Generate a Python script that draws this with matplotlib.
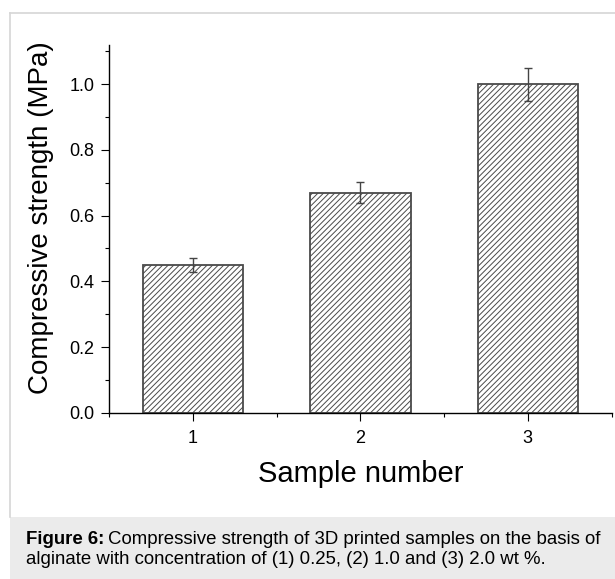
import matplotlib
matplotlib.use("Agg")
import matplotlib.pyplot as plt
from matplotlib.patches import Rectangle
from matplotlib.lines import Line2D
from matplotlib.ticker import MultipleLocator, FormatStrFormatter

plt.rcParams["font.family"] = ["Liberation Sans", "DejaVu Sans"]
plt.rcParams["hatch.linewidth"] = 0.7
plt.rcParams["hatch.color"] = "#3a3a3a"

# Compressive strength per sample
samples = [1, 2, 3]
strength = [0.45, 0.67, 1.00]
strength_err = [0.022, 0.033, 0.050]
tick_labels = ["1", "2", "3"]

W, H = 615, 579
fig = plt.figure(figsize=(W / 100, H / 100), dpi=100)
fig.patch.set_facecolor("white")

# Page frame and caption panel
cap_top = 517
fig.patches.append(Rectangle((10 / W, 0), 1 - 10 / W, (H - cap_top) / H,
                             transform=fig.transFigure, facecolor="#ebebeb",
                             edgecolor="none", zorder=0))
fig.lines.append(Line2D([10 / W, 10 / W], [(H - cap_top) / H, 1 - 13 / H],
                        transform=fig.transFigure, color="#d6d6d6", lw=1.2))
fig.lines.append(Line2D([10 / W, 1], [1 - 13 / H, 1 - 13 / H],
                        transform=fig.transFigure, color="#d6d6d6", lw=1.2))

ax = fig.add_axes([109 / W, 1 - 412.7 / H, (611.5 - 109) / W, (412.7 - 44.8) / H])

ax.bar(samples, strength, width=0.6, facecolor="white", edgecolor="#4a4a4a",
       linewidth=1.3, hatch="//////", zorder=2)
ax.errorbar(samples, strength, yerr=strength_err, fmt="none", ecolor="#444444",
            elinewidth=1.0, capsize=3, capthick=1.0, zorder=3)

ax.set_xlim(0.5, 3.5)
ax.set_ylim(0, 1.12)
ax.set_xticks(samples)
ax.set_xticklabels(tick_labels)
ax.xaxis.set_minor_locator(MultipleLocator(0.5))
ax.yaxis.set_major_locator(MultipleLocator(0.2))
ax.yaxis.set_minor_locator(MultipleLocator(0.1))
ax.yaxis.set_major_formatter(FormatStrFormatter("%.1f"))

for side in ("top", "right"):
    ax.spines[side].set_visible(False)
for side in ("left", "bottom"):
    ax.spines[side].set_linewidth(1.0)

ax.tick_params(which="major", direction="out", length=5.5, width=0.8,
               labelsize=13)
ax.tick_params(which="minor", direction="out", length=3, width=0.8)
ax.tick_params(axis="y", which="major", pad=5)
ax.tick_params(axis="x", which="major", pad=7)

ax.set_xlabel("Sample number", fontsize=21, labelpad=9)
ax.set_ylabel("Compressive strength (MPa)", fontsize=20)
ax.yaxis.set_label_coords(-0.11, 0.53)

# Caption with bold lead-in
cap_size = 13.4
x0 = 25.5 / W
y1 = 1 - 539 / H
y2 = 1 - 559 / H
t_bold = fig.text(x0, y1, "Figure 6:", fontsize=cap_size, fontweight="bold",
                  va="center", ha="left")
fig.canvas.draw()
r = fig.canvas.get_renderer()
bb = t_bold.get_window_extent(renderer=r)
fig.text(bb.x1 / W + 4 / W, y1,
         "Compressive strength of 3D printed samples on the basis of",
         fontsize=cap_size, va="center", ha="left")
fig.text(x0, y2, "alginate with concentration of (1) 0.25, (2) 1.0 and (3) 2.0 wt %.",
         fontsize=cap_size, va="center", ha="left")

fig.savefig("out.png", dpi=100)
